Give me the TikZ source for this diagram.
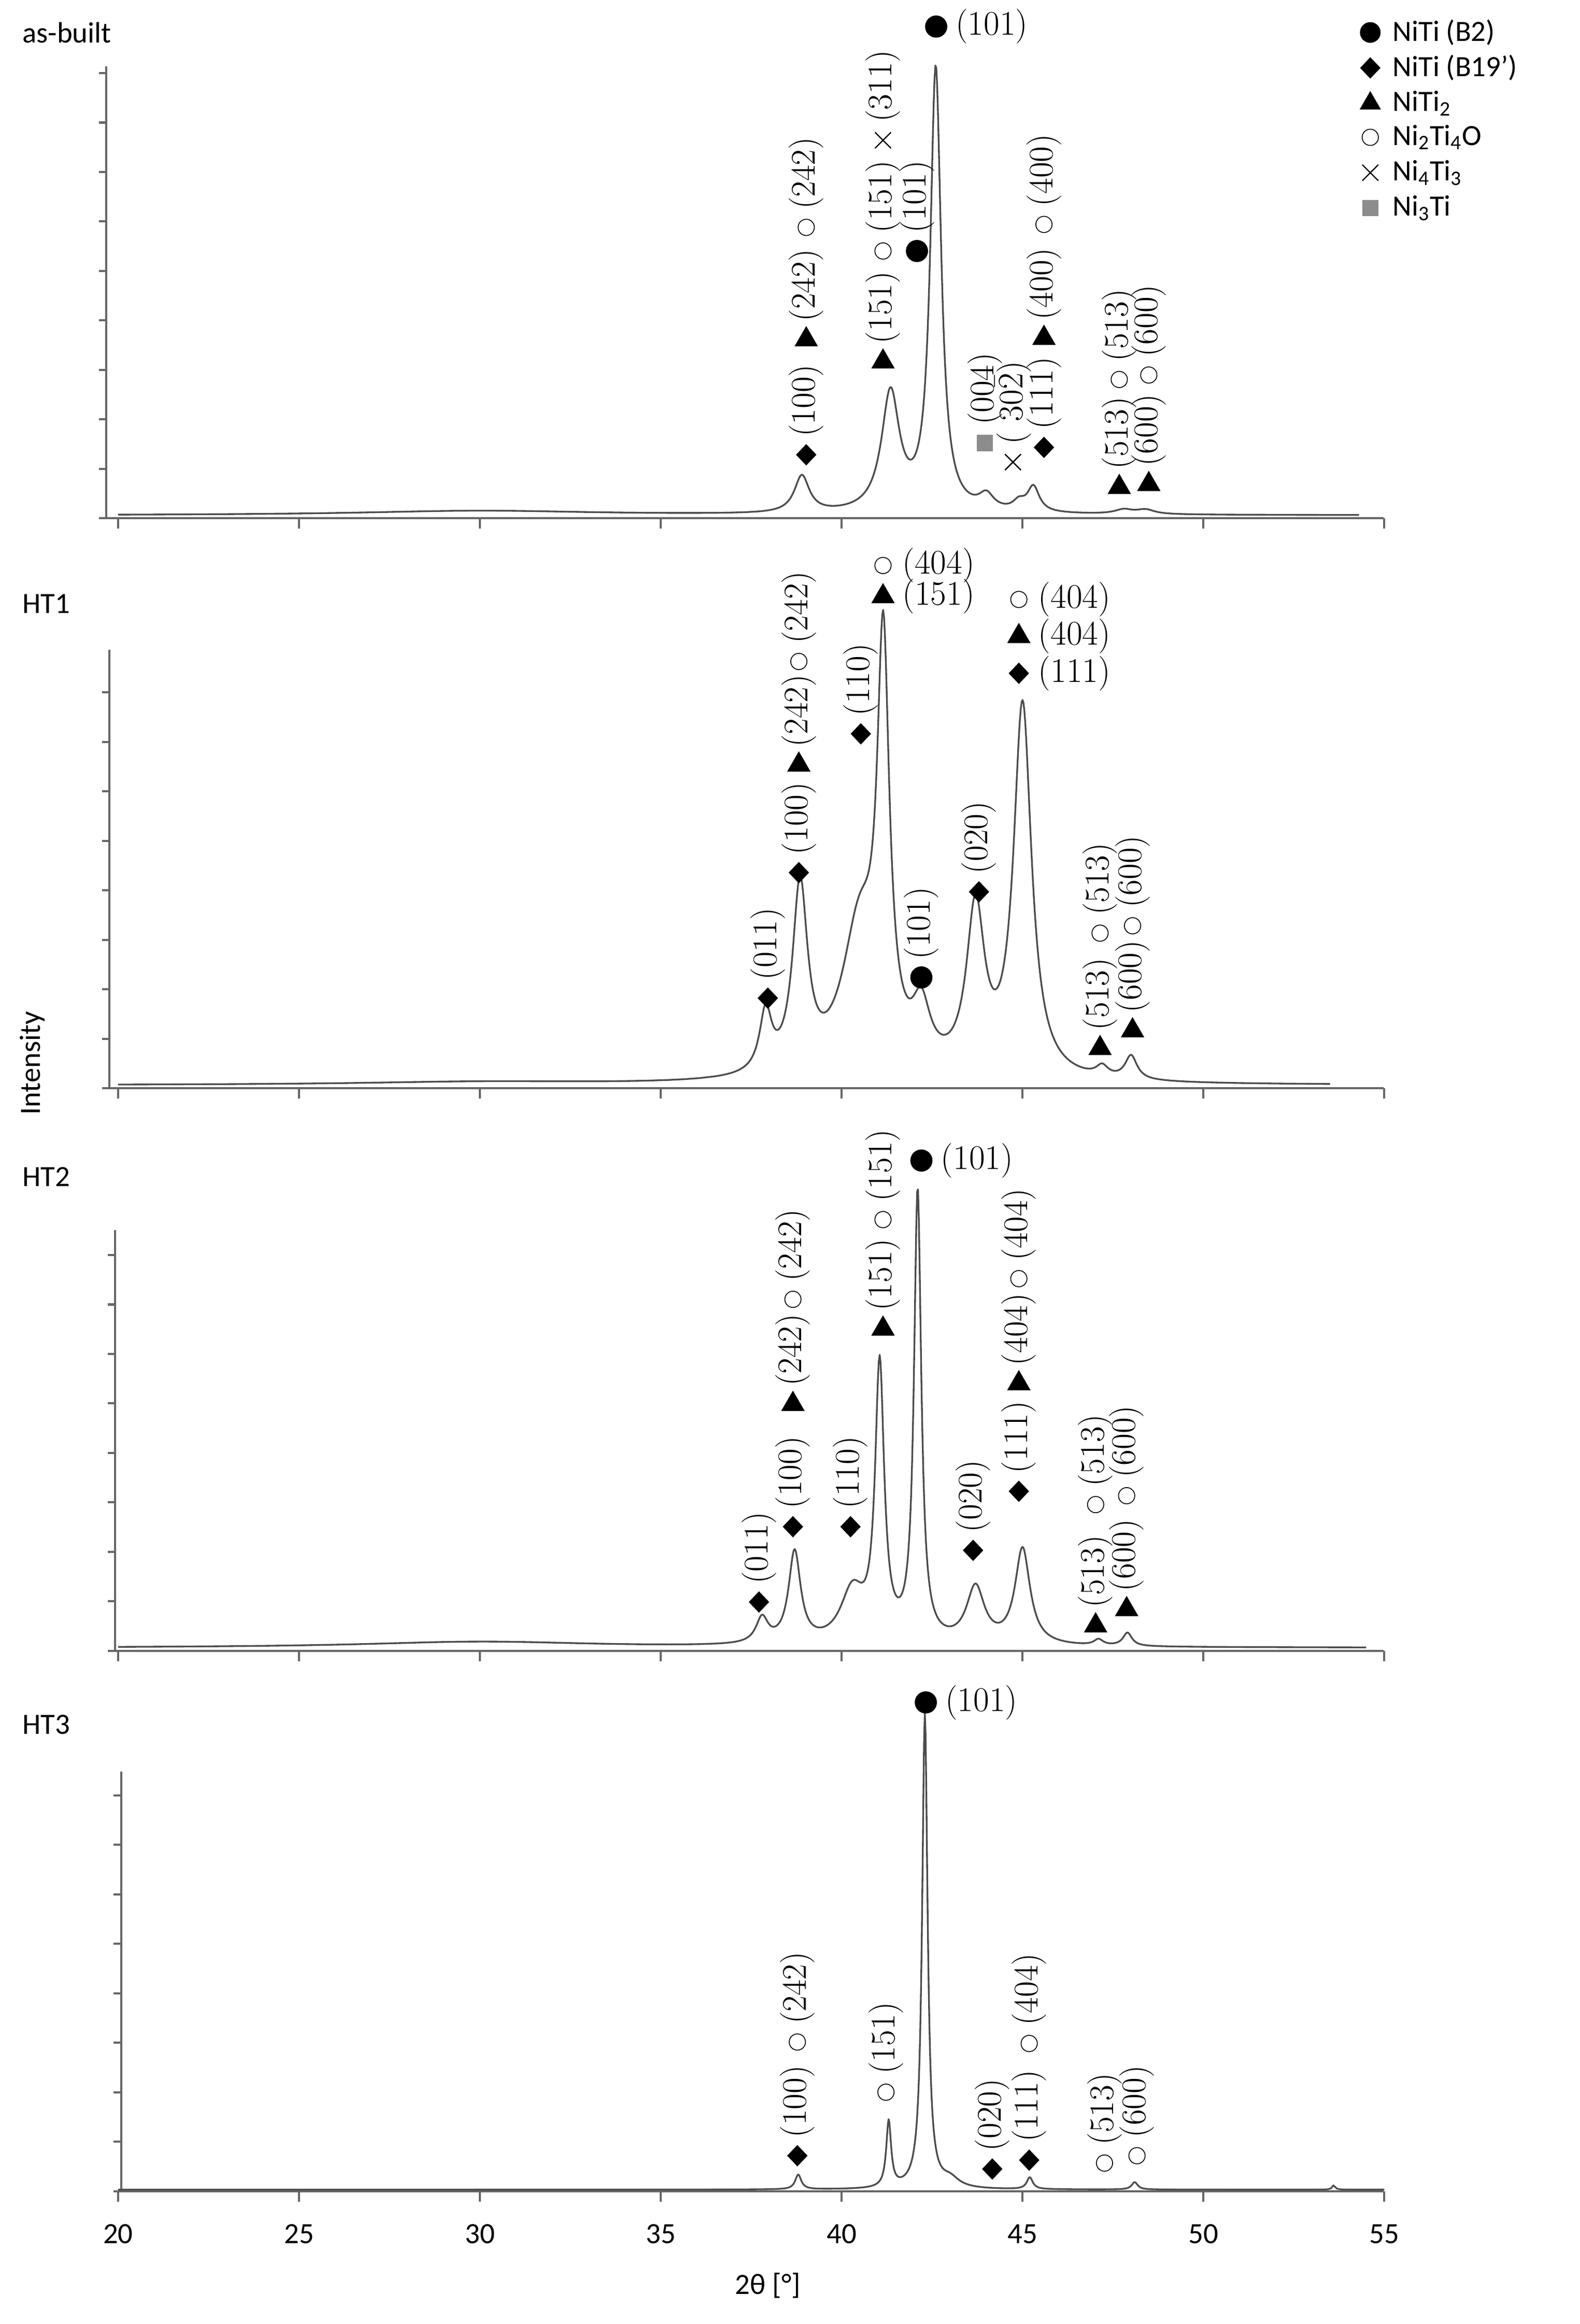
\documentclass[tikz,border=0pt]{standalone}
\usepackage{fontspec}
\setsansfont{Carlito}
\usetikzlibrary{shapes.geometric,shapes.misc}
\tikzset{
  curve/.style={draw=black!70,line width=1.0pt,line join=round},
  ax/.style={draw=black!60,line width=1.2pt},
  hkl/.style={font=\fontsize{20}{24}\selectfont,inner sep=0pt},
  lab/.style={font=\sffamily\fontsize{17}{20}\selectfont,inner sep=0pt},
  sdia/.style={diamond,fill=black,minimum width=0.42cm,minimum height=0.44cm,inner sep=0pt},
  stri/.style={regular polygon,regular polygon sides=3,fill=black,minimum size=0.55cm,inner sep=0pt},
  scir/.style={circle,draw=black,line width=0.5pt,minimum size=0.33cm,inner sep=0pt},
  sdot/.style={circle,fill=black,minimum size=0.45cm,inner sep=0pt},
  scro/.style={cross out,draw=black,line width=0.7pt,minimum size=0.3cm,inner sep=0pt},
  ssq/.style={rectangle,fill=black!45,minimum size=0.33cm,inner sep=0pt},
  declare function={
    L(\x,\c,\w,\h)=\h/(1+pow(min(abs(\x-\c)/\w,120),2));
    fa(\x)=2+L(\x,30,4,3)+L(\x,38.9,0.25,25)+L(\x,41.35,0.3,80)+L(\x,42.6,0.18,300)+L(\x,44.0,0.25,10)+L(\x,44.9,0.2,6)+L(\x,45.3,0.2,17)+L(\x,47.8,0.3,3)+L(\x,48.4,0.3,3);
    fb(\x)=2+L(\x,30,4,2)+L(\x,37.9,0.2,40)+L(\x,38.85,0.25,125)+L(\x,40.5,0.6,100)+L(\x,41.15,0.2,268)+L(\x,42.2,0.3,38)+L(\x,43.7,0.3,110)+L(\x,45.0,0.3,252)+L(\x,47.2,0.2,7)+L(\x,48.0,0.2,16);
    fc(\x)=2+L(\x,30,4,4)+L(\x,37.8,0.2,17)+L(\x,38.7,0.2,62)+L(\x,40.3,0.4,35)+L(\x,41.05,0.15,185)+L(\x,42.1,0.12,305)+L(\x,43.7,0.3,38)+L(\x,45.0,0.25,65)+L(\x,47.1,0.15,4)+L(\x,47.9,0.15,9);
    fd(\x)=1+L(\x,38.8,0.1,10)+L(\x,41.3,0.08,45)+L(\x,42.3,0.09,322)+L(\x,43.0,0.3,6)+L(\x,45.2,0.1,8)+L(\x,48.1,0.1,5)+L(\x,53.6,0.05,3);
  }
}
\newcommand\mk[4]{\node[#3] at (#1,#2) {};\node[hkl,rotate=90,anchor=west] at (#1,#2-12) {#4};}
\newcommand\mh[4]{\node[#3] at (#1,#2) {};\node[hkl,anchor=west] at (#1+13,#2) {#4};}
\newcommand\panel[4]{% axis x, top, base, ntick
  \draw[ax] (#1,#2) -- (#1,#3) -- (937,#3);
  \foreach \k in {0,...,7} \draw[ax] (80+122.5*\k,#3) -- (80+122.5*\k,#3+7);
  \foreach \j in {0,...,#4} \draw[ax] (#1,#3-33.5*\j) -- (#1-5,#3-33.5*\j);
}
% #1 function, #2 base, #3 end
\newcommand\crv[3]{\draw[curve] plot[domain=20:36.5,samples=40] ({80+24.5*(\x-20)},{#2-#1(\x)})
  -- plot[domain=36.5:49,samples=520] ({80+24.5*(\x-20)},{#2-#1(\x)})
  -- plot[domain=49:#3,samples=40] ({80+24.5*(\x-20)},{#2-#1(\x)});}
\begin{document}
\begin{tikzpicture}[x=0.03cm,y=-0.03cm]
\useasboundingbox (0,0) rectangle (1070,1574);
% axes
\panel{72}{45}{351}{9}
\panel{74}{440}{737}{8}
\panel{78}{833}{1118}{8}
\panel{82}{1200}{1484}{8}
% curves
\crv{fa}{351}{54.3}
\crv{fb}{737}{53.5}
\crv{fc}{1118}{54.5}
\draw[curve] plot[domain=20:36.5,samples=40] ({80+24.5*(\x-20)},{1484-fd(\x)})
  -- plot[domain=36.5:49,samples=600] ({80+24.5*(\x-20)},{1484-fd(\x)})
  -- plot[domain=49:55,samples=120] ({80+24.5*(\x-20)},{1484-fd(\x)});
% panel labels
\node[lab,anchor=west] (pa) at (15,22) {as-built};
\node[lab,anchor=west] (pb) at (15,409) {HT1};
\node[lab,anchor=west] (pc) at (15,797) {HT2};
\node[lab,anchor=west] (pd) at (15,1168) {HT3};
\foreach \k/\v in {0/20,1/25,2/30,3/35,4/40,5/45,6/50,7/55}
  \node[lab] at (80+122.5*\k,1513) {\v};
\node[lab] (xl) at (520,1548) {2θ [°]};
\node[lab,rotate=90] (yl) at (22,720) {Intensity};
% legend
\node[sdot,minimum size=0.42cm] at (928,22) {}; \node[lab,anchor=west] at (943,22) {NiTi (B2)};
\node[sdia] at (928,46) {}; \node[lab,anchor=west] at (943,46) {NiTi (B19’)};
\node[stri,minimum size=0.5cm] at (928,70) {}; \node[lab,anchor=west] at (943,70) {NiTi\textsubscript{2}};
\node[scir] at (928,93) {}; \node[lab,anchor=west] at (943,93) {Ni\textsubscript{2}Ti\textsubscript{4}O};
\node[scro] at (928,117) {}; \node[lab,anchor=west] at (943,117) {Ni\textsubscript{4}Ti\textsubscript{3}};
\node[ssq] at (928,141) {}; \node[lab,anchor=west] at (943,141) {Ni\textsubscript{3}Ti};
% panel 1 labels
\mk{546}{308}{sdia}{(100)} \mk{546}{230}{stri}{(242)} \mk{546}{154}{scir}{(242)}
\mk{598}{245}{stri}{(151)} \mk{598}{170}{scir}{(151)} \mk{598}{95}{scro}{(311)}
\mk{621}{170}{sdot}{(101)}
\mh{634}{18}{sdot}{(101)}
\mk{667}{300}{ssq}{(004)}
\mk{686}{313}{scro}{( 30$\bar{2}$)}
\mk{707}{303}{sdia}{(111)} \mk{707}{229}{stri}{(400)} \mk{707}{152}{scir}{(400)}
\mk{758}{330}{stri}{(513)} \mk{758}{257}{scir}{(513)}
\mk{778}{328}{stri}{(600)} \mk{778}{254}{scir}{(600)}
% panel 2
\mk{520}{676}{sdia}{(011)}
\mk{541}{591}{sdia}{(100)} \mk{541}{518}{stri}{(242)} \mk{541}{448}{scir}{(242)}
\mk{583}{497}{sdia}{(110)}
\mh{598}{404}{stri}{(151)} \mh{598}{383}{scir}{(404)}
\mk{624}{662}{sdot}{(101)}
\mk{663}{604}{sdia}{(020)}
\mh{690}{456}{sdia}{(111)} \mh{690}{431}{stri}{(404)} \mh{690}{406}{scir}{(404)}
\mk{745}{710}{stri}{(513)} \mk{745}{632}{scir}{(513)}
\mk{767}{698}{stri}{(600)} \mk{767}{627}{scir}{(600)}
% panel 3
\mk{514}{1085}{sdia}{(011)}
\mk{537}{1034}{sdia}{(100)} \mk{537}{951}{stri}{(242)} \mk{537}{880}{scir}{(242)}
\mk{576}{1034}{sdia}{(110)}
\mk{598}{900}{stri}{(151)} \mk{598}{826}{scir}{(151)}
\mh{624}{786}{sdot}{(101)}
\mk{659}{1050}{sdia}{(020)}
\mk{690}{1010}{sdia}{(111)} \mk{690}{937}{stri}{(404)} \mk{690}{866}{scir}{(404)}
\mk{742}{1101}{stri}{(513)} \mk{742}{1019}{scir}{(513)}
\mk{763}{1090}{stri}{(600)} \mk{763}{1013}{scir}{(600)}
% panel 4
\mk{540}{1460}{sdia}{(100)} \mk{540}{1383}{scir}{(242)}
\mk{600}{1417}{scir}{(151)}
\mh{627}{1153}{sdot}{(101)}
\mk{672}{1469}{sdia}{(020)}
\mk{697}{1463}{sdia}{(111)} \mk{697}{1384}{scir}{(404)}
\mk{748}{1465}{scir}{(513)}
\mk{770}{1460}{scir}{(600)}
\end{tikzpicture}
\end{document}
